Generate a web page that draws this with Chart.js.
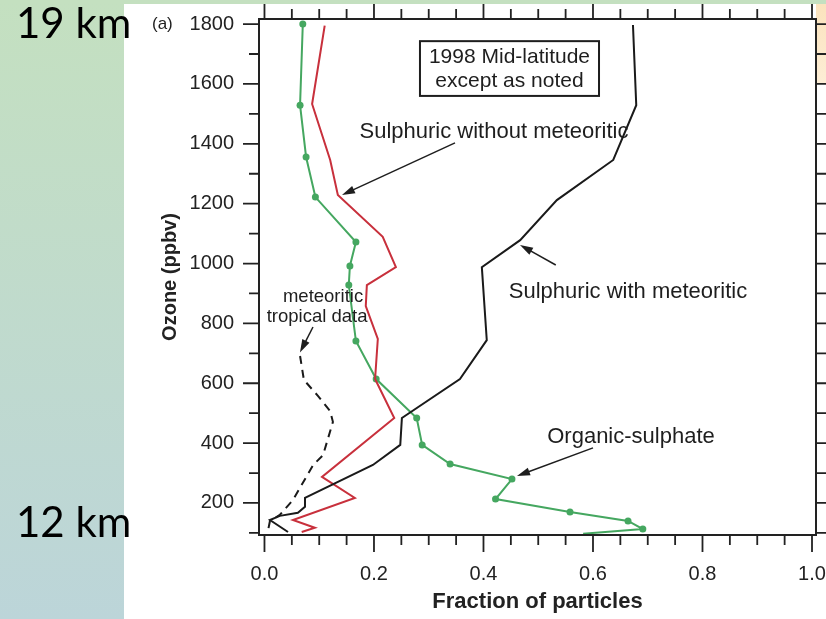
<!DOCTYPE html>
<html lang="en">
<head>
<meta charset="UTF-8">
<title>Particle composition against ozone</title>
<style>
  body {
    margin: 0;
    width: 826px;
    height: 619px;
    position: relative;
    overflow: hidden;
    background: #fff;
  }
  .side {
    position: absolute; left: 0; top: 0; width: 124px; height: 619px;
    background: linear-gradient(#c4e0c0, #bcd5d9);
  }
  .topband {
    position: absolute; left: 0; top: 0; width: 826px; height: 4px; z-index: 3;
    background: #c4e0c0;
  }
  .edge {
    position: absolute; left: 816px; top: 4px; width: 10px; height: 80px;
    background: linear-gradient(#fbe3bd, #fdeed6);
  }
  .km {
    position: absolute; left: 16px; z-index: 2;
    font-family: Lato, sans-serif; font-size: 42px; line-height: 1; color: #000;
  }
  #chartBox { position: absolute; left: 124px; top: 4px; width: 702px; height: 615px; z-index: 1; }
</style>
</head>
<body>
<div class="side"></div>
<div class="topband"></div>
<div class="edge"></div>
<div class="km" style="top:1px">19 km</div>
<div class="km" style="top:500px">12 km</div>
<div id="chartBox"><canvas id="ozoneChart" width="702" height="615"></canvas></div>

<script src="https://cdn.jsdelivr.net/npm/chart.js"></script>
<script>
// axis labels
const xTicks = [0, 0.2, 0.4, 0.6, 0.8, 1.0];
const yTicks = [200, 400, 600, 800, 1000, 1200, 1400, 1600, 1800];

// organic-sulphate (fraction, ozone ppbv)
const organicFrac  = [0.070, 0.065, 0.076, 0.093, 0.167, 0.156, 0.154, 0.167, 0.204, 0.278, 0.288, 0.339, 0.452, 0.422, 0.558, 0.664, 0.691, 0.582];
const organicOzone = [1800, 1529, 1356, 1222, 1072, 992, 928, 741, 614, 484, 394, 330, 280, 213, 170, 140, 113, 97];

// sulphuric without meteoritic
const noMetFrac  = [0.110, 0.087, 0.120, 0.134, 0.216, 0.240, 0.187, 0.185, 0.207, 0.202, 0.237, 0.105, 0.165, 0.052, 0.092, 0.068];
const noMetOzone = [1795, 1533, 1346, 1229, 1089, 988, 928, 858, 748, 614, 484, 287, 217, 143, 117, 103];

// sulphuric with meteoritic
const metFrac  = [0.673, 0.679, 0.637, 0.534, 0.467, 0.397, 0.406, 0.357, 0.251, 0.248, 0.198, 0.074, 0.074, 0.061, 0.028, 0.010, 0.043];
const metOzone = [1797, 1529, 1346, 1212, 1078, 988, 744, 614, 484, 394, 327, 217, 187, 167, 157, 143, 103];

// meteoritic, tropical data
const tropFrac  = [0.065, 0.072, 0.098, 0.120, 0.125, 0.107, 0.089, 0.052, 0.028, 0.010, 0.006];
const tropOzone = [691, 611, 557, 507, 471, 360, 327, 210, 160, 140, 103];

const FONT = "'Liberation Sans', Arial, sans-serif";
const INK = '#1e1e1e';

const pairs = (xs, ys) => xs.map((v, i) => ({ x: v, y: ys[i] }));

// text labels and arrows, placed in data units
const notes = [
  { lines: ['1998 Mid-latitude', 'except as noted'], x: 0.4475, ys: [1690, 1610], size: 21,
    box: [0.284, 1743, 0.611, 1560] },
  { lines: ['Sulphuric without meteoritic'], x: 0.4192, ys: [1439], size: 22,
    arrow: [0.348, 1403, 0.1416, 1229] },
  { lines: ['Sulphuric with meteoritic'], x: 0.664, ys: [905], size: 22,
    arrow: [0.532, 995, 0.4667, 1062] },
  { lines: ['meteoritic', 'tropical data'], x: 0.096, ys: [888, 821], size: 18.5,
    arrow: [0.0886, 788, 0.0648, 703] },
  { lines: ['Organic-sulphate'], x: 0.6694, ys: [420], size: 22,
    arrow: [0.600, 384, 0.4612, 290] }
];

const notesPlugin = {
  id: 'notes',
  afterDatasetsDraw(chart) {
    const { ctx, chartArea: a, scales: { x, y } } = chart;
    ctx.save();
    ctx.fillStyle = INK;
    ctx.strokeStyle = INK;
    ctx.textAlign = 'center';
    ctx.textBaseline = 'middle';
    notes.forEach(n => {
      ctx.font = n.size + 'px ' + FONT;
      n.lines.forEach((t, i) => {
        const cx = n.lines.length > 1 && n.x < 0.2 ? x.getPixelForValue(n.x) + (i === 0 ? 6 : 0) : x.getPixelForValue(n.x);
        ctx.fillText(t, cx, y.getPixelForValue(n.ys[i]));
      });
      if (n.box) {
        const [x0, y0, x1, y1] = n.box;
        const l = x.getPixelForValue(x0), t = y.getPixelForValue(y0);
        ctx.lineWidth = 2;
        ctx.strokeRect(l, t, x.getPixelForValue(x1) - l, y.getPixelForValue(y1) - t);
      }
      if (n.arrow) {
        const [ax, ay, bx, by] = n.arrow;
        const x0 = x.getPixelForValue(ax), y0 = y.getPixelForValue(ay);
        const x1 = x.getPixelForValue(bx), y1 = y.getPixelForValue(by);
        const ang = Math.atan2(y1 - y0, x1 - x0);
        ctx.lineWidth = 1.5;
        ctx.beginPath();
        ctx.moveTo(x0, y0);
        ctx.lineTo(x1 - 8 * Math.cos(ang), y1 - 8 * Math.sin(ang));
        ctx.stroke();
        ctx.beginPath();
        ctx.moveTo(x1, y1);
        ctx.lineTo(x1 - 13 * Math.cos(ang) + 4 * Math.sin(ang), y1 - 13 * Math.sin(ang) - 4 * Math.cos(ang));
        ctx.lineTo(x1 - 13 * Math.cos(ang) - 4 * Math.sin(ang), y1 - 13 * Math.sin(ang) + 4 * Math.cos(ang));
        ctx.closePath();
        ctx.fill();
      }
    });
    // panel letter beside the top label
    ctx.font = '17px ' + FONT;
    ctx.textAlign = 'left';
    ctx.fillText('(a)', a.left - 107, y.getPixelForValue(1800));
    ctx.restore();
  }
};

// box round the plot, ticks on all four sides
const framePlugin = {
  id: 'frame',
  afterDraw(chart) {
    const { ctx, chartArea: a, scales: { x, y } } = chart;
    ctx.save();
    ctx.strokeStyle = '#222';
    ctx.lineWidth = 2;
    ctx.strokeRect(a.left, a.top, a.right - a.left, a.bottom - a.top);
    ctx.lineWidth = 1.8;
    ctx.beginPath();
    for (let i = 0; i <= 20; i++) {
      const px = x.getPixelForValue(i * 0.05);
      const len = i % 4 === 0 ? 17 : 10;
      ctx.moveTo(px, a.bottom); ctx.lineTo(px, a.bottom + len);
      ctx.moveTo(px, a.top); ctx.lineTo(px, a.top - len);
    }
    for (let v = 100; v <= 1800; v += 100) {
      const py = y.getPixelForValue(v);
      const len = v % 200 === 0 ? 16 : 10;
      ctx.moveTo(a.left, py); ctx.lineTo(a.left - len, py);
      ctx.moveTo(a.right, py); ctx.lineTo(a.right + len, py);
    }
    ctx.stroke();
    ctx.restore();
  }
};

// fixed plot box: no extra room for overhanging tick labels
const noOverhang = s => {
  s.paddingLeft = 0; s.paddingRight = 0; s.paddingTop = 0; s.paddingBottom = 0;
};

new Chart(document.getElementById('ozoneChart'), {
  type: 'scatter',
  data: {
    datasets: [
      {
        label: 'meteoritic tropical data',
        data: pairs(tropFrac, tropOzone),
        showLine: true, borderColor: '#1a1a1a', borderWidth: 2, borderDash: [8, 6],
        pointRadius: 0
      },
      {
        label: 'Sulphuric with meteoritic',
        data: pairs(metFrac, metOzone),
        showLine: true, borderColor: '#1a1a1a', borderWidth: 2, pointRadius: 0
      },
      {
        label: 'Sulphuric without meteoritic',
        data: pairs(noMetFrac, noMetOzone),
        showLine: true, borderColor: '#c8303c', borderWidth: 2, pointRadius: 0
      },
      {
        label: 'Organic-sulphate',
        data: pairs(organicFrac, organicOzone),
        showLine: true, borderColor: '#45a760', borderWidth: 2,
        pointBackgroundColor: '#45a760', pointBorderWidth: 0,
        pointRadius: ctx => ctx.dataIndex === organicFrac.length - 1 ? 0 : 3.5
      }
    ]
  },
  options: {
    responsive: false,
    devicePixelRatio: 1,
    animation: false,
    layout: { padding: { left: 0, right: 10, top: 15, bottom: 0 } },
    plugins: { legend: { display: false }, tooltip: { enabled: false } },
    scales: {
      x: {
        type: 'linear', position: 'bottom', min: -0.01, max: 1.0073,
        afterBuildTicks: s => { s.ticks = xTicks.map(v => ({ value: v })); },
        afterFit: s => { s.height = 84; noOverhang(s); },
        grid: { display: false, drawTicks: false },
        border: { display: false },
        ticks: {
          callback: v => v.toFixed(1), autoSkip: false, maxRotation: 0,
          padding: 27, color: '#222', font: { family: FONT, size: 20 }
        },
        title: {
          display: true, text: 'Fraction of particles', color: '#222',
          font: { family: FONT, size: 22, weight: 'bold' }, padding: { top: 0, bottom: 4 }
        }
      },
      y: {
        type: 'linear', min: 93, max: 1817,
        afterBuildTicks: s => { s.ticks = yTicks.map(v => ({ value: v })); },
        afterFit: s => { s.width = 135; noOverhang(s); },
        grid: { display: false, drawTicks: false },
        border: { display: false },
        ticks: {
          callback: v => String(v), autoSkip: false, padding: 25,
          color: '#222', font: { family: FONT, size: 20 }
        },
        title: {
          display: true, text: 'Ozone (ppbv)', color: '#222',
          font: { family: FONT, size: 20, weight: 'bold' }, padding: { top: 34, bottom: 0 }
        }
      }
    }
  },
  plugins: [framePlugin, notesPlugin]
});
</script>
</body>
</html>
